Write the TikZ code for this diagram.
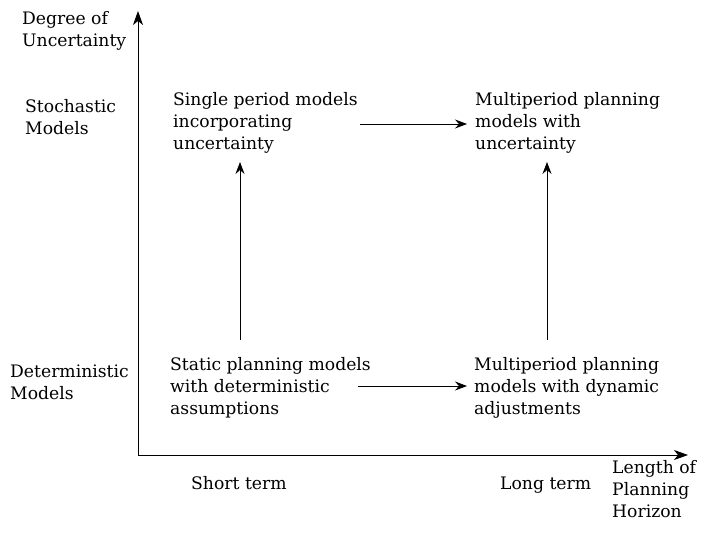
\documentclass[tikz,border=0pt]{standalone}
\usepackage{fontspec}
\setmainfont{DejaVu Serif}
\usetikzlibrary{arrows.meta}
\begin{document}
\begin{tikzpicture}[x=1pt,y=-1pt,
  lbl/.style={anchor=west,align=left,inner sep=0pt,font=\fontsize{17.2}{22}\selectfont},
  axis/.style={-{Stealth[length=14pt,width=10pt,inset=4pt]},line width=0.9pt},
  conn/.style={-{Stealth[length=12pt,width=9pt,inset=4pt]},line width=0.8pt}]
\useasboundingbox (0,0) rectangle (722,536);
% axes
\coordinate (o) at (138,455);
\coordinate (ytop) at (138,11);
\coordinate (xend) at (688,455);
\draw[axis] (o) -- (ytop);
\draw[axis] (o) -- (xend);
% axis labels
\node[lbl] (ylab) at (22,31) {Degree of\\Uncertainty};
\node[lbl] (stoch) at (25,117) {Stochastic\\Models};
\node[lbl] (det) at (10,382) {Deterministic\\Models};
\node[lbl] (short) at (191,483) {Short term};
\node[lbl] (long) at (500,485) {Long term};
\node[lbl] (xlab) at (612,489) {Length of\\Planning\\Horizon};
% boxes
\node[lbl] (tl) at (173,123) {Single period models\\incorporating\\uncertainty};
\node[lbl] (tr) at (475,123) {Multiperiod planning\\models with\\uncertainty};
\node[lbl] (bl) at (170,388) {Static planning models\\with deterministic\\assumptions};
\node[lbl] (br) at (474,388) {Multiperiod planning\\models with dynamic\\adjustments};
% connectors
\coordinate (a1s) at (360,124);
\coordinate (a1e) at (467,124);
\coordinate (a2s) at (358,386);
\coordinate (a2e) at (467,386);
\coordinate (v1s) at (240,340);
\coordinate (v1e) at (240,162);
\coordinate (v2s) at (547,340);
\coordinate (v2e) at (547,162);
\draw[conn] (a1s) -- (a1e);
\draw[conn] (a2s) -- (a2e);
\draw[conn] (v1s) -- (v1e);
\draw[conn] (v2s) -- (v2e);
\end{tikzpicture}
\end{document}
